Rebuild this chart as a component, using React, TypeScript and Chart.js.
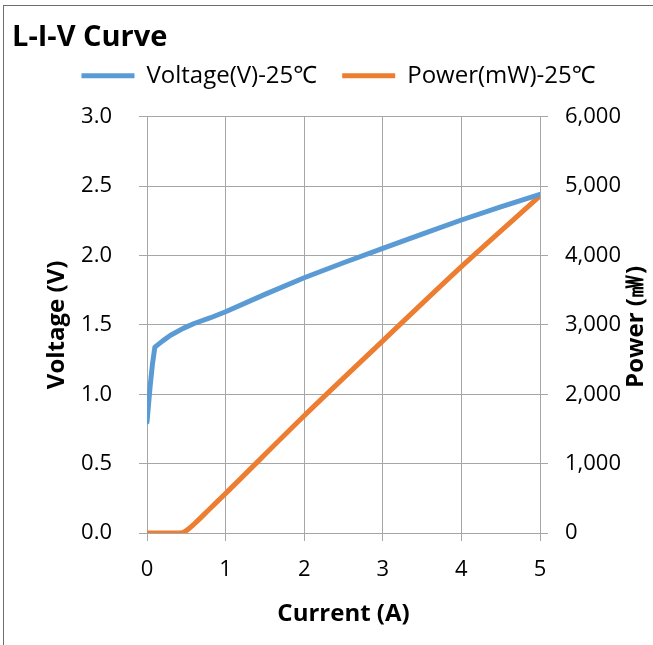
import React, { useEffect, useRef } from "react";
import { Chart, registerables } from "chart.js";

Chart.register(...registerables);

// Data
const currentV = [0, 0.02, 0.04, 0.07, 0.1, 0.2, 0.3, 0.46, 0.6, 0.8, 1, 1.5, 2, 2.5, 3, 3.5, 4, 4.5, 5];
const voltage = [0.8, 0.93, 1.06, 1.22, 1.34, 1.385, 1.425, 1.475, 1.51, 1.55, 1.595, 1.72, 1.84, 1.948, 2.052, 2.155, 2.256, 2.35, 2.44];
const currentP = [0, 0.2, 0.45, 0.5, 0.6, 0.8, 1, 2, 3, 4, 5];
const power = [0, 0, 5, 35, 130, 350, 570, 1690, 2770, 3840, 4860];

const seriesNames = ["Voltage(V)-25℃", "Power(mW)-25℃"];
const chartTitle = "L-I-V Curve";
const xTitle = "Current (A)";
const yLeftTitle = "Voltage (V)";
const yRightTitle = "Power (㎽)";

const FONT = "'Open Sans', 'Noto Sans', sans-serif";
const GRID = "#a6a6a6";

export default function App() {
  const ref = useRef<HTMLCanvasElement | null>(null);

  useEffect(() => {
    if (!ref.current) return;
    const legendTweak = {
      id: "legendTweak",
      beforeInit(chart: any) {
        const lg = chart.legend;
        if (!lg) return;
        const origFit = lg.fit;
        lg.fit = function () {
          origFit.call(this);
          this.height = 78;
        };
        const origDraw = lg.draw;
        lg.draw = function () {
          const ctx = chart.ctx;
          ctx.save();
          ctx.translate(6, 0);
          origDraw.call(this);
          ctx.restore();
        };
      },
    };
    const rightTitlePlugin = {
      id: "rightTitle",
      afterDraw(chart: any) {
        const ctx = chart.ctx;
        const area = chart.chartArea;
        ctx.save();
        ctx.translate(636, (area.top + area.bottom) / 2 + 2);
        ctx.rotate(-Math.PI / 2);
        ctx.font = `bold 24px ${FONT}`;
        ctx.fillStyle = "#000";
        ctx.textAlign = "center";
        ctx.textBaseline = "middle";
        ctx.fillText(yRightTitle, 0, 0);
        ctx.restore();
      },
    };

    const chart = new Chart(ref.current, {
      type: "line",
      data: {
        datasets: [
          {
            label: seriesNames[0],
            data: currentV.map((x, i) => ({ x, y: voltage[i] })),
            borderColor: "#5B9BD5",
            backgroundColor: "#5B9BD5",
            borderWidth: 5,
            borderCapStyle: "round",
            borderJoinStyle: "round",
            pointRadius: 0,
            tension: 0,
            yAxisID: "y",
          },
          {
            label: seriesNames[1],
            data: currentP.map((x, i) => ({ x, y: power[i] })),
            borderColor: "#ED7D31",
            backgroundColor: "#ED7D31",
            borderWidth: 5,
            borderCapStyle: "round",
            borderJoinStyle: "round",
            pointRadius: 0,
            cubicInterpolationMode: "monotone",
            yAxisID: "y1",
          },
        ],
      },
      options: {
        animation: false,
        responsive: false,
        layout: { padding: { left: 12, right: 0, top: 0, bottom: 0 } },
        plugins: {
          title: {
            display: true,
            text: chartTitle,
            align: "start",
            color: "#000",
            font: { family: FONT, size: 29, weight: "bold" },
            padding: { top: 20, bottom: -16 },
          },
          legend: {
            display: true,
            labels: {
              usePointStyle: true,
              pointStyle: "line",
              pointStyleWidth: 53,
              boxHeight: 24,
              padding: 25,
              color: "#000",
              font: { family: FONT, size: 24 },
            },
          },
          tooltip: { enabled: false },
        },
        scales: {
          x: {
            type: "linear",
            min: 0,
            max: 5,
            ticks: { stepSize: 1, color: "#000", padding: 16, font: { family: FONT, size: 22 } },
            grid: { color: GRID, tickLength: 8, drawTicks: true },
            border: { color: GRID },
            title: {
              display: true,
              text: xTitle,
              color: "#000",
              font: { family: FONT, size: 24, weight: "bold" },
              padding: { top: 0, bottom: 16 },
            },
            afterFit(scale: any) {
              scale.height = 112;
            },
          },
          y: {
            type: "linear",
            position: "left",
            min: 0,
            max: 3,
            ticks: {
              stepSize: 0.5,
              color: "#000",
              padding: 27,
              font: { family: FONT, size: 22 },
              callback: (v: any) => Number(v).toFixed(1),
            },
            grid: { color: GRID, tickLength: 8 },
            border: { color: GRID },
            title: {
              display: true,
              text: yLeftTitle,
              color: "#000",
              font: { family: FONT, size: 24, weight: "bold" },
              padding: { top: 31, bottom: 0 },
            },
            afterFit(scale: any) {
              scale.width = 135;
            },
          },
          y1: {
            type: "linear",
            position: "right",
            min: 0,
            max: 6000,
            ticks: {
              stepSize: 1000,
              color: "#000",
              padding: 17,
              font: { family: FONT, size: 22 },
              callback: (v: any) => Number(v).toLocaleString("en-US"),
            },
            grid: { color: GRID, tickLength: 8, drawOnChartArea: false },
            border: { color: GRID },
            afterFit(scale: any) {
              scale.width = 113;
            },
          },
        },
      },
      plugins: [legendTweak, rightTitlePlugin],
    } as any);
    return () => chart.destroy();
  }, []);

  return (
    <div style={{ position: "fixed", left: 0, top: 0, width: 653, height: 645, background: "#fff" }}>
      <div
        style={{
          position: "absolute",
          left: 3,
          top: 5,
          width: 700,
          height: 700,
          border: "1px solid #6e6e6e",
          boxSizing: "border-box",
        }}
      />
      <canvas ref={ref} width={653} height={645} style={{ position: "absolute", left: 0, top: 0 }} />
    </div>
  );
}
